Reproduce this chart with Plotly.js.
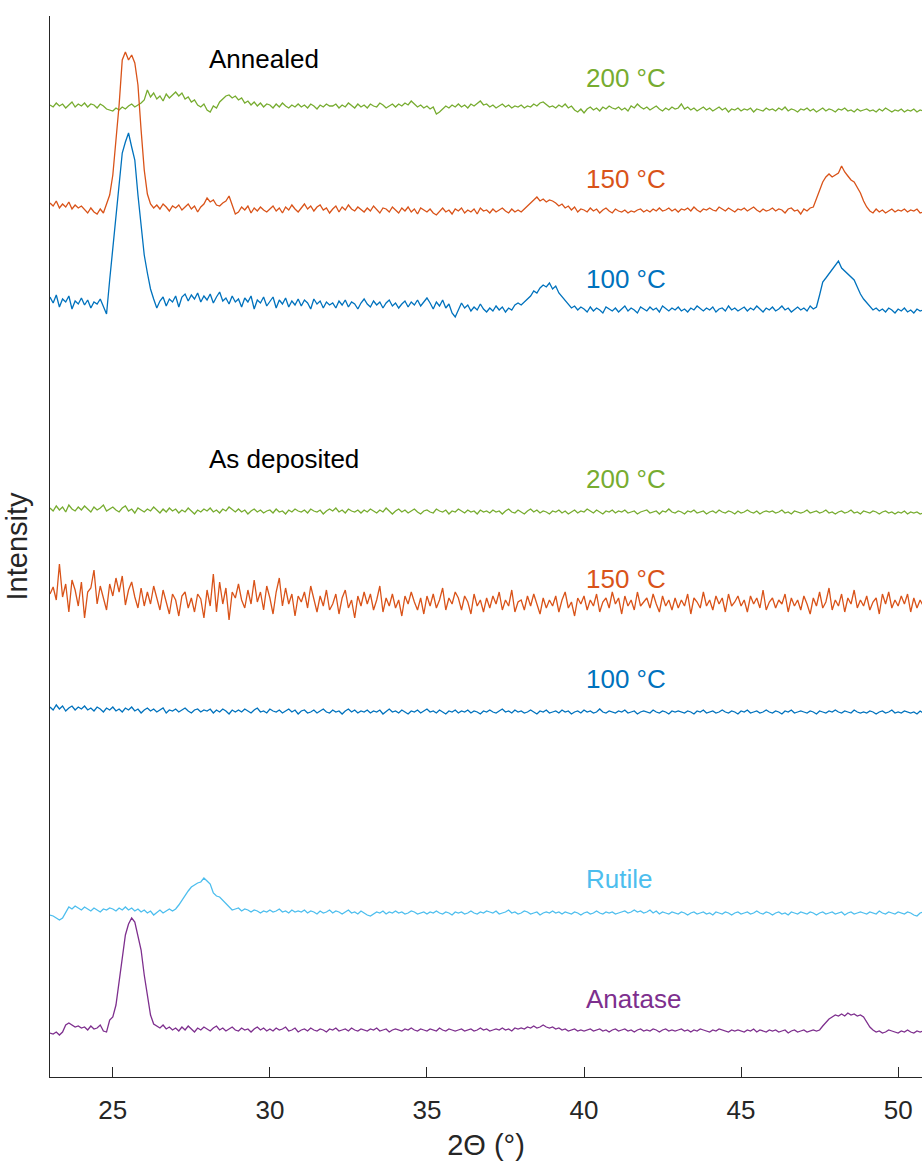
<!DOCTYPE html>
<html>
<head>
<meta charset="utf-8">
<script src="https://cdn.plot.ly/plotly-3.0.1.min.js"></script>
<style>html,body{margin:0;padding:0;background:#fff;}</style>
</head>
<body>
<div id="chart" style="width:922px;height:1162px;"></div>
<script>
// 2θ grid: start and step (degrees)
const twoThetaStart = 23.0;
const twoThetaStep = 0.1;

const seriesNames = ["Annealed 200 °C", "Annealed 150 °C", "Annealed 100 °C",
  "As deposited 200 °C", "As deposited 150 °C", "As deposited 100 °C", "Rutile", "Anatase"];
const seriesLabels = ["200 °C", "150 °C", "100 °C", "200 °C", "150 °C", "100 °C", "Rutile", "Anatase"];
const groupLabels = ["Annealed", "As deposited"];
const offsets = [967, 867, 772, 565, 475, 365, 164, 47];

const annealed200 = [
5,3,7,4,6,2,5,8,3,6,
4,7,3,6,5,2,6,4,1,0,
-1,2,0,3,1,4,6,3,5,7,
10,20,13,17,11,14,9,16,12,15,
18,14,17,11,13,8,10,5,3,6,
0,-2,4,2,8,11,14,15,12,14,
10,12,7,9,5,8,4,7,3,6,
5,2,6,3,7,4,2,5,3,6,
3,5,2,6,4,1,5,3,6,4,
4,6,2,5,3,7,4,2,6,3,
5,2,6,4,3,7,5,2,4,6,
3,6,4,7,5,9,6,3,5,2,
4,1,3,-4,-2,1,4,2,5,3,
6,3,5,2,6,4,7,9,5,6,
3,5,2,4,6,3,5,2,4,3,
5,2,4,3,6,4,7,8,5,3,
4,2,5,3,6,2,4,0,-2,1,
-3,1,3,0,2,-1,3,1,4,2,
1,3,0,2,-1,4,2,6,3,1,
3,0,2,4,1,-1,2,0,3,1,
2,6,1,3,0,2,-1,1,3,0,
2,-1,1,3,0,2,-2,1,0,2,
-1,1,0,2,-2,1,0,-1,2,0,
1,-1,2,0,3,-1,1,0,-2,1,
0,2,-1,1,-2,0,2,-1,1,0,
-2,1,0,2,-1,0,-2,1,-1,0,
1,-1,0,-2,1,-1,2,0,-2,0,
-1,1,-2,0,-1,1,-2,0,-1];

const annealed150 = [
7,4,9,2,6,3,8,1,5,2,
4,0,-3,2,-2,-4,1,-3,5,15,
35,70,105,150,158,150,155,147,125,80,
40,16,6,2,5,1,6,3,-1,4,
2,5,0,3,6,1,4,-2,3,6,
12,8,10,5,4,7,9,14,6,-4,
-2,3,0,4,-3,2,-1,3,0,-2,
1,4,-1,2,-3,3,0,5,1,-2,
2,6,1,4,-1,3,5,0,2,-3,
1,4,-2,3,0,5,1,-1,3,0,
-2,2,-1,4,0,-3,2,1,-2,3,
0,-3,2,-1,3,-2,1,-4,2,0,
-2,1,-3,-5,-1,2,-2,0,-4,1,
-1,2,-3,0,-2,1,-4,2,-1,0,
-3,1,-2,0,2,-1,-3,1,-2,0,
-2,1,4,7,10,13,9,11,8,10,
9,7,4,6,2,4,0,3,-2,1,
0,-2,2,-1,1,-3,0,2,-1,-3,
1,-1,-2,0,-3,-1,-2,0,1,-2,
0,-2,1,-1,2,-1,0,2,-1,1,
-2,1,0,2,-1,3,0,-2,1,0,
2,0,-1,3,1,-1,2,0,-2,1,
0,2,-1,1,3,0,-2,1,-1,0,
2,-1,1,0,-3,1,2,-1,0,-4,
1,-1,2,3,12,20,28,33,36,33,
35,37,44,38,34,30,28,23,17,9,
3,-1,-3,1,-2,0,-3,-1,1,-2,
0,-1,1,-2,0,-1,1,-3,-2];

const annealed100 = [
8,2,10,-2,6,3,9,-4,4,1,
7,0,5,-3,3,1,6,-2,-9,25,
55,90,118,152,163,172,158,145,110,82,
50,32,16,6,-3,4,8,-1,6,3,
9,-2,8,11,4,10,6,12,3,9,
5,11,2,8,13,4,7,1,9,3,
6,-2,7,3,9,-4,5,2,8,-1,
3,8,-3,5,1,7,-2,4,0,6,
-1,5,2,-4,6,1,4,-3,3,0,
2,-3,4,0,5,-2,3,1,-4,2,
6,1,-2,4,0,3,-3,2,5,-1,
2,-3,1,4,-2,3,0,5,-1,3,
7,2,-4,3,-1,5,-3,1,-8,-12,
-4,2,-3,0,-6,-2,-5,1,-4,-7,
-3,-6,-1,-5,-2,-7,-3,-5,0,2,
0,3,6,9,14,12,17,20,18,22,
16,19,12,8,4,1,-3,-1,-5,-2,
-4,-7,-2,-6,-3,-5,-8,-2,-4,-6,
-3,-7,-4,-1,-6,-3,-5,-8,-2,-4,
-6,-2,-5,-3,-7,-1,-4,-6,-3,-5,
-2,-6,-4,-7,-3,-5,-1,-4,-6,-3,
-5,-2,-7,-4,-3,-6,-1,-5,-3,-6,
-4,-2,-6,-3,-5,-1,-4,-7,-3,-5,
-2,-6,-4,-1,-5,-3,-7,-4,-2,-5,
-3,-6,-1,-4,-2,10,23,27,31,35,
40,44,37,34,31,29,25,18,11,6,
2,-2,-5,-3,-6,-4,-7,-3,-5,-8,
-4,-6,-3,-7,-5,-8,-4,-6,-5];

const deposited200 = [
4,1,6,2,5,0,7,3,1,5,
2,6,3,0,5,2,4,7,1,3,
5,2,0,4,6,1,3,-1,4,2,
0,3,1,5,2,-1,3,0,4,1,
3,-1,2,0,4,1,-2,2,0,3,
1,4,0,2,-1,3,1,5,2,0,
3,0,2,-2,1,3,0,2,-1,1,
2,-1,3,0,1,-2,2,0,3,1,
0,2,-1,3,1,0,2,-2,1,3,
1,4,0,2,-1,3,1,0,2,-1,
2,0,3,1,-1,2,0,4,1,-2,
1,3,0,2,-1,1,3,0,-2,1,
2,0,-1,3,1,0,2,-2,1,0,
3,1,-1,2,0,1,-2,2,0,1,
-1,2,0,1,-2,1,3,0,-1,2,
0,-2,1,3,0,2,-1,1,0,-2,
1,0,2,-1,1,-2,0,2,-1,1,
0,3,1,-1,2,0,-2,1,0,2,
-1,1,0,2,-1,0,1,-2,0,1,
2,-1,0,1,-2,1,0,3,0,-1,
1,0,-2,1,0,2,-1,0,1,-2,
0,1,-1,2,0,-1,1,0,-2,1,
-1,0,2,0,-1,1,-2,0,1,0,
1,-1,0,2,-1,0,-2,1,0,-1,
0,2,-1,0,1,-1,0,2,-1,0,
-2,0,1,-1,0,2,-1,0,-2,1,
0,-1,1,0,-2,0,1,-1,0,-2,
0,-1,1,-2,0,-1,0,-2,-1];

const deposited150 = [
8,15,2,38,5,18,-10,22,12,-4,
20,-16,10,14,32,-2,16,4,-8,18,
6,24,10,26,-3,12,20,5,-6,14,
-4,10,-2,16,3,-8,12,0,-12,8,
2,-14,6,10,-6,4,-10,8,3,-16,
12,-4,28,-10,20,-2,14,-18,10,4,
18,2,-6,12,-2,22,0,10,-8,16,
4,-12,10,24,-4,14,-2,8,-14,6,
0,10,-6,16,4,-10,6,-4,12,-8,
-2,8,-12,4,12,-6,2,-16,6,-4,
10,-2,8,-8,2,16,-10,4,-4,8,
-6,2,-14,6,-2,10,0,-8,4,-12,
6,-4,8,-6,2,14,-8,4,-2,10,
4,-8,6,0,-12,8,-4,2,-10,4,
-6,6,-2,10,-8,2,-4,12,-10,0,
2,-8,6,-4,8,-2,-12,4,-6,2,
-4,6,-10,2,10,-6,0,-14,4,-2,
6,-8,2,-4,8,-10,0,4,-6,10,
-2,4,-12,6,-4,2,-8,10,-4,0,
4,-6,8,-2,-10,6,-4,2,-8,4,
-6,2,-4,8,-12,4,0,-6,10,-4,
2,-8,6,-2,4,-10,8,-4,0,6,
-4,2,-10,6,-2,4,-6,12,-8,0,
4,-6,2,-2,8,-10,4,-4,2,-8,
6,-2,-12,4,-4,10,-6,0,14,-8,
2,-4,8,-10,4,-2,12,-6,2,-4,
6,-8,0,4,-12,8,-2,10,-6,2,
-4,6,-2,8,-10,4,-6,2,-4];

const deposited100 = [
5,2,7,3,6,1,4,6,2,5,
3,6,2,4,1,5,3,0,4,2,
5,1,3,0,4,2,5,1,3,-1,
2,4,1,3,0,2,4,-1,2,1,
3,0,2,4,1,-1,2,3,0,2,
1,3,-1,2,0,3,1,-2,2,0,
2,0,3,1,-1,2,4,0,1,-1,
3,1,0,2,-1,1,3,0,2,-2,
1,2,-1,0,2,-1,1,3,0,-1,
2,0,1,-2,1,3,0,2,-1,1,
0,2,-1,1,0,2,-2,1,3,0,
1,-1,2,0,-2,1,0,2,-1,1,
3,0,1,-1,2,0,-2,1,0,2,
-1,1,0,2,-1,1,0,-2,1,0,
2,0,-1,1,3,0,1,-1,2,0,
1,-1,0,2,0,-2,1,0,2,-1,
0,1,-1,2,0,1,-2,0,1,-1,
2,0,1,-1,0,3,0,-1,1,0,
-1,1,0,2,-1,0,1,-2,0,1,
0,-1,2,0,-1,1,0,-2,1,0,
1,0,-1,1,0,-2,1,0,2,-1,
0,1,-1,0,2,0,-1,1,0,-2,
1,0,2,-1,0,1,-1,0,2,0,
-1,1,0,-2,1,0,2,-1,0,1,
0,-1,1,0,-2,1,0,-1,1,0,
2,0,-1,1,0,-1,2,0,-1,0,
-1,1,0,-2,0,1,-1,0,2,-1,
0,-1,1,0,-1,0,-2,1,-1];

const rutile = [
-2,-3,-5,-7,-5,0,6,4,7,5,
3,6,4,2,5,3,1,4,3,5,
4,2,5,3,6,3,5,2,4,1,
3,0,2,-2,1,3,0,2,4,2,
4,8,13,17,22,26,28,30,31,35,
32,29,20,17,16,13,10,7,3,4,
5,2,4,3,1,3,2,0,2,1,
3,1,2,4,1,2,0,3,1,2,
1,3,0,2,1,-1,2,0,1,3,
0,2,1,-1,1,3,0,1,-1,2,
0,-2,-3,-1,1,0,2,-1,1,0,
2,0,1,-1,0,2,1,-1,0,1,
-1,1,0,2,0,-1,1,0,-2,1,
0,1,-1,0,2,0,-1,1,0,2,
1,0,2,-1,0,1,3,0,1,-1,
0,2,1,-1,0,1,-2,0,1,0,
2,0,1,-1,1,0,-1,1,0,-2,
0,1,-1,0,2,0,-1,1,0,1,
-1,0,1,2,0,1,3,1,2,0,
1,3,0,2,-1,1,0,-1,1,0,
-1,1,0,-2,0,1,-1,0,1,-1,
0,-2,1,0,-1,1,0,-2,0,1,
-1,0,1,-1,0,2,0,-1,1,0,
-2,0,1,-1,0,-2,1,0,-1,1,
0,-1,1,0,-2,0,1,-1,0,1,
-1,0,1,-2,0,1,-1,0,1,0,
-1,1,0,-1,2,0,-1,1,0,-1,
1,0,-1,1,0,-2,-3,0,1];

const anatase = [
-3,-4,-2,-5,-2,5,7,5,3,4,
2,3,0,4,1,2,5,-1,-2,10,
13,25,48,75,95,106,112,108,95,80,
55,33,15,6,4,2,5,1,3,0,
2,-1,3,0,4,1,-2,2,0,3,
1,-1,2,4,0,2,-1,1,3,0,
-1,2,0,1,-2,1,3,0,2,-1,
1,-1,2,0,1,3,-1,0,2,-2,
0,1,-1,2,0,-1,1,0,-2,1,
0,2,-1,0,1,-1,2,0,-1,1,
0,-1,1,0,2,-1,0,1,-2,0,
1,0,-1,1,0,2,0,-1,1,0,
-1,1,0,-1,2,0,-1,1,0,-1,
0,1,-1,0,1,-1,0,2,0,1,
-1,0,1,0,2,0,1,-1,2,1,
2,1,3,2,4,2,3,5,3,2,
3,1,2,0,1,-1,0,1,-1,0,
-1,0,1,-1,0,1,-1,0,-2,0,
1,-1,0,1,-1,0,-2,0,1,-1,
0,-1,1,0,-2,0,1,-1,0,-1,
0,1,-1,0,-2,0,-1,1,0,-1,
-2,0,-1,1,0,-1,-2,0,-1,0,
-1,-2,0,-1,1,-2,0,-1,-2,0,
-1,0,-2,-1,0,-3,-1,0,-2,-1,
0,-2,-1,0,-1,0,4,8,11,13,
15,14,16,14,17,15,16,14,15,13,
8,3,0,-2,-1,-3,-2,0,-1,-2,
-3,-1,-2,0,-2,-3,-1,-2,-1];

const xTickVals = [25, 30, 35, 40, 45, 50];
const xTickText = ["25", "30", "35", "40", "45", "50"];

const allSeries = [annealed200, annealed150, annealed100, deposited200, deposited150, deposited100, rutile, anatase];
const colors = ["#77AC30", "#D95319", "#0072BD", "#77AC30", "#D95319", "#0072BD", "#4DBEEE", "#7E2F8E"];
const labelY = [999, 898, 798, 598, 498, 398, 198, 78];
const groupLabelPos = [{x: 28, y: 1018}, {x: 28, y: 618}];

const FONT = "Liberation Sans, Arial, Helvetica, sans-serif";
const AXC = "#262626";

const traces = allSeries.map((vals, i) => ({
  type: "scatter",
  mode: "lines",
  name: seriesNames[i],
  x0: twoThetaStart,
  dx: twoThetaStep,
  y: vals.map(v => v + offsets[i]),
  line: {color: colors[i], width: 1.3},
  hoverinfo: "skip"
}));

const annotations = [];
seriesLabels.forEach((t, i) => {
  annotations.push({xref: "x", yref: "y", x: 40, y: labelY[i], text: t, showarrow: false,
    xanchor: "left", yanchor: "middle", font: {family: FONT, size: 26, color: colors[i]}});
});
groupLabels.forEach((t, i) => {
  annotations.push({xref: "x", yref: "y", x: groupLabelPos[i].x, y: groupLabelPos[i].y, text: t, showarrow: false,
    xanchor: "left", yanchor: "middle", font: {family: FONT, size: 26, color: "#000000"}});
});

const layout = {
  width: 922, height: 1162,
  margin: {l: 50, r: 0, t: 16, b: 85},
  paper_bgcolor: "#ffffff", plot_bgcolor: "#ffffff",
  showlegend: false,
  font: {family: FONT, color: AXC},
  xaxis: {
    range: [23, 50.76], tickvals: xTickVals, ticktext: xTickText,
    ticks: "inside", ticklen: 10, tickwidth: 1, tickcolor: AXC,
    showline: true, linecolor: AXC, linewidth: 1,
    showgrid: false, zeroline: false,
    tickfont: {family: FONT, size: 26, color: AXC},
    ticklabelstandoff: 10,
    title: {text: "2Θ (°)", font: {family: FONT, size: 29, color: AXC}, standoff: 10},
    automargin: false
  },
  yaxis: {
    range: [0, 1061], showticklabels: false, ticks: "",
    showline: true, linecolor: AXC, linewidth: 1,
    showgrid: false, zeroline: false,
    title: {text: "Intensity", font: {family: FONT, size: 29, color: AXC}, standoff: 12},
    automargin: true
  },
  annotations: annotations
};

Plotly.newPlot("chart", traces, layout, {staticPlot: true, displayModeBar: false});
</script>
</body>
</html>
